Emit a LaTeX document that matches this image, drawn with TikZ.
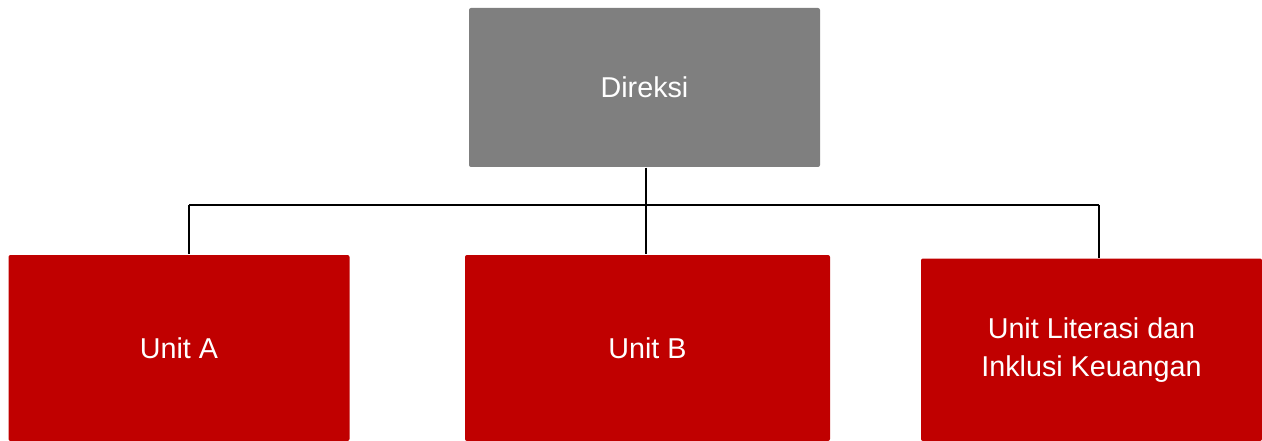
\documentclass[tikz,border=0pt]{standalone}
\usepackage{fontspec}
\setmainfont{Liberation Sans}
\usepackage{tikz}
\usetikzlibrary{positioning,calc}
\definecolor{headgray}{HTML}{7F7F7F}
\definecolor{unitred}{HTML}{C00000}

\begin{document}
\begin{tikzpicture}[x=1pt, y=-1pt, line width=1.5pt,
	box/.style={rounded corners=2pt, inner sep=0pt, text=white, align=center, font=\fontsize{28.7}{38}\selectfont},
	head/.style={box, fill=headgray},
	unit/.style={box, fill=unitred}]
	\useasboundingbox (0,0) rectangle (1262,441);
	\node [head, minimum width=351pt, minimum height=159pt] (direksi) at (644.5,87.5) {Direksi};
	\node [unit, minimum width=341pt, minimum height=186pt] (unita) at (179,348) {Unit A};
	\node [unit, minimum width=365pt, minimum height=186pt] (unitb) at (647.5,348) {Unit B};
	\node [unit, minimum width=341pt, minimum height=182.5pt] (unitlit) at (1091.5,349.75) {Unit Literasi dan\\Inklusi Keuangan};
	\coordinate (busl) at (189,205);
	\coordinate (busr) at (1099,205);
	\draw (busl) -- (busr);
	\draw (direksi.south -| 646,0) -- (unitb.north -| 646,0);
	\draw (busl) -- (busl |- unita.north);
	\draw (busr) -- (busr |- unitlit.north);
\end{tikzpicture}
\end{document}
